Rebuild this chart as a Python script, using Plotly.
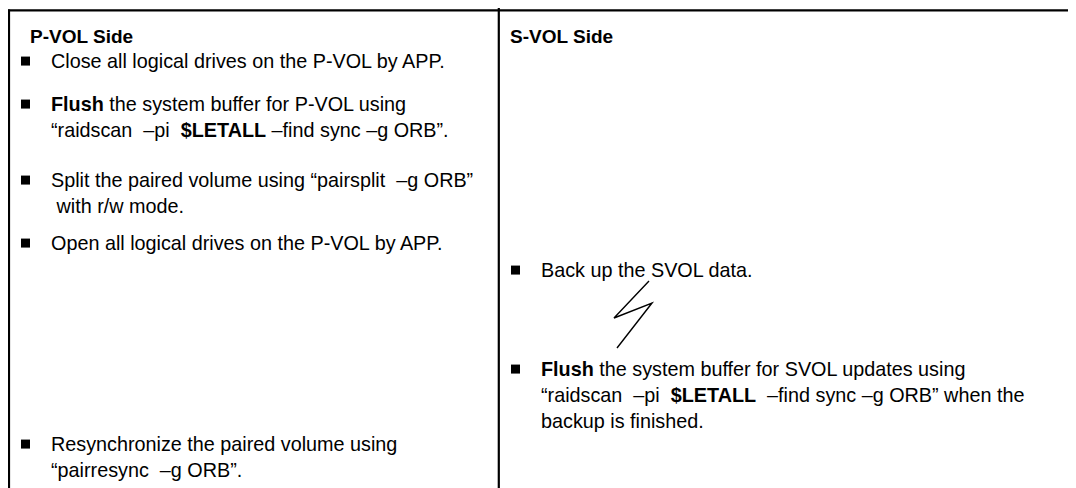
import plotly.graph_objects as go

W, H = 1076, 488
PAGE_MARGIN = 8  # default body margin of the html page

# ---- content ----
col_titles = ["P-VOL Side", "S-VOL Side"]

pvol_steps = [
    ["Close all logical drives on the P-VOL by APP."],
    ["<b>Flush</b> the system buffer for P-VOL using",
     "“raidscan  –pi  <b>$LETALL</b> –find sync –g ORB”."],
    ["Split the paired volume using “pairsplit  –g ORB”",
     " with r/w mode."],
    ["Open all logical drives on the P-VOL by APP."],
    ["Resynchronize the paired volume using",
     "“pairresync  –g ORB”."],
]

svol_steps = [
    ["Back up the SVOL data."],
    ["<b>Flush</b> the system buffer for SVOL updates using",
     "“raidscan  –pi  <b>$LETALL</b>  –find sync –g ORB” when the",
     "backup is finished."],
]

# ---- layout constants (page pixels) ----
FAMILY = "Liberation Sans, Arial, Helvetica, sans-serif"
BODY_SIZE = 19.8
TITLE_SIZE = 19
LINE = 26          # line spacing inside one step
title_baseline = 43
title_x = [30, 510]
bullet_x = [21, 511]
text_x = [51, 541]
pvol_baselines = [68, 111, 187, 250, 451]
svol_baselines = [277, 376]
BUL = 9

fig = go.Figure()
fig.add_trace(go.Scatter(x=[PAGE_MARGIN, W], y=[PAGE_MARGIN, H], mode="markers",
                         marker=dict(opacity=0), hoverinfo="skip", showlegend=False))

annotations = []
shapes = []

def add_text(x, baseline, text, size, bold=False):
    annotations.append(dict(
        x=x, y=baseline - 0.35 * size, xref="x", yref="y",
        text=f"<b>{text}</b>" if bold else text,
        showarrow=False, xanchor="left", yanchor="middle", align="left",
        font=dict(family=FAMILY, size=size, color="#000000"),
        borderpad=0, borderwidth=0))

for ci, title in enumerate(col_titles):
    add_text(title_x[ci], title_baseline, title, TITLE_SIZE, bold=True)

for ci, (steps, bases) in enumerate([(pvol_steps, pvol_baselines), (svol_steps, svol_baselines)]):
    for lines, b0 in zip(steps, bases):
        cy = b0 - 0.35 * BODY_SIZE
        shapes.append(dict(type="rect", xref="x", yref="y",
                           x0=bullet_x[ci], x1=bullet_x[ci] + BUL,
                           y0=cy - BUL / 2, y1=cy + BUL / 2,
                           fillcolor="#000000", line=dict(width=0)))
        for li, line in enumerate(lines):
            add_text(text_x[ci], b0 + li * LINE, line, BODY_SIZE)

# frame lines
line_style = dict(color="#000000", width=2.2)
shapes += [
    dict(type="line", xref="x", yref="y", x0=8, x1=W, y0=10.3, y1=10.3, line=line_style),
    dict(type="line", xref="x", yref="y", x0=9, x1=9, y0=9.5, y1=H, line=line_style),
    dict(type="line", xref="x", yref="y", x0=498.8, x1=498.8, y0=8, y1=H, line=line_style),
    # lightning (time gap) mark
    dict(type="path", xref="x", yref="y",
         path="M 649 281 L 614 318 L 652 303 L 617 348",
         line=dict(color="#000000", width=1.4)),
]

fig.update_layout(
    width=W - PAGE_MARGIN, height=H - PAGE_MARGIN,
    margin=dict(l=0, r=0, t=0, b=0),
    paper_bgcolor="white", plot_bgcolor="white",
    xaxis=dict(range=[PAGE_MARGIN, W], visible=False, fixedrange=True),
    yaxis=dict(range=[H, PAGE_MARGIN], visible=False, fixedrange=True),
    annotations=annotations, shapes=shapes,
    showlegend=False,
)

fig.write_html("out.html")
